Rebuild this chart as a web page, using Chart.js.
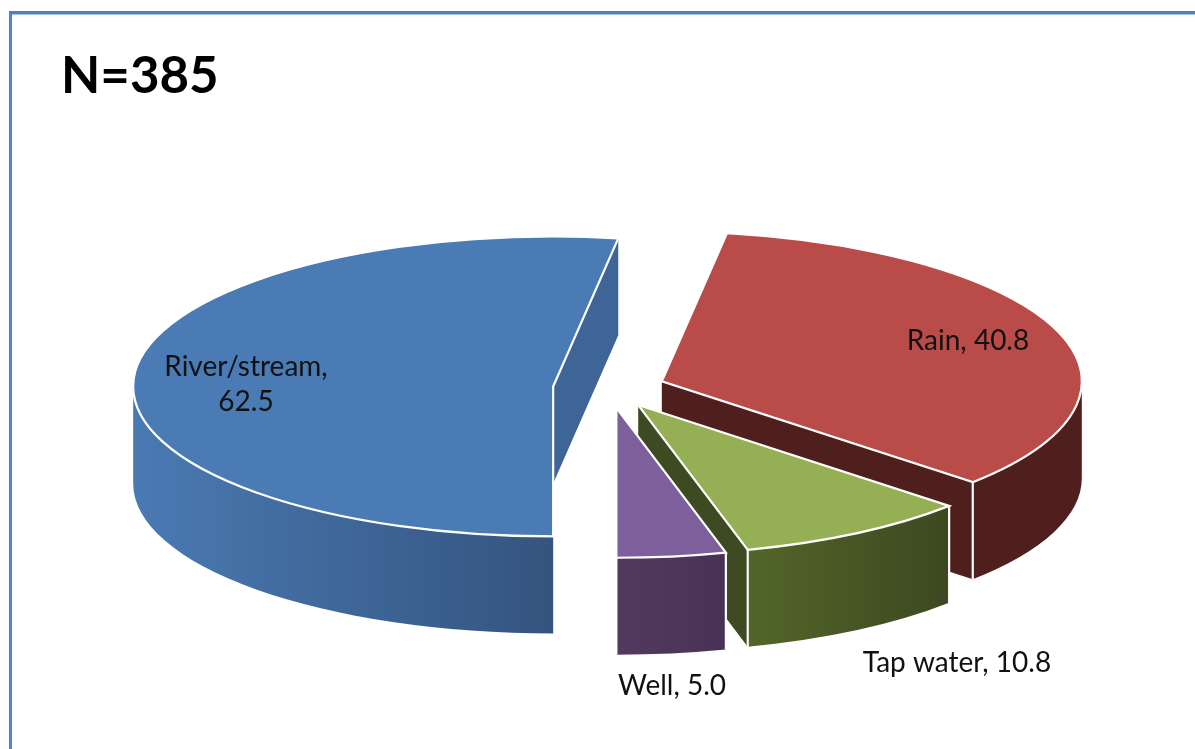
<!DOCTYPE html>
<html>
<head>
<meta charset="utf-8">
<style>
html,body{margin:0;padding:0;background:#fff;overflow:hidden}
#frame{position:absolute;left:9px;top:11px;width:1186px;height:738px;box-sizing:border-box;border-top:3px solid #4f81bd;border-left:3px solid #5585c0;box-shadow:inset 0 1px 0 #a9c1e0}
#c{position:absolute;left:0;top:0}
</style>
<script src="https://cdn.jsdelivr.net/npm/chart.js@4"></script>
</head>
<body>
<div id="frame"></div>
<canvas id="c" width="1195" height="749"></canvas>
<script>
const titleText = 'N=385';
const categories = ['River/stream', 'Rain', 'Tap water', 'Well'];
const values = [62.5, 40.8, 10.8, 5.0];
const valueLabels = ['62.5', '40.8', '10.8', '5.0'];
const topColors = ['#4a7bb5', '#b94c49', '#95b054', '#7d5f9c'];
const cutColors = ['#3f6596', '#4f1f1e', '#3e4a22', '#483355'];
const wallFrom = ['#4a7ab3', '#4f1f1e', '#526629', '#523a5f'];
const wallTo = ['#34547e', '#4f1f1e', '#3d4820', '#473255'];

const SQUASH = 0.357, DEPTH = 97, EXPLODE = 56;
const labelLines = [
  [[categories[0] + ',', 246, 367], [valueLabels[0], 246, 402]],
  [[categories[1] + ', ' + valueLabels[1], 968, 341]],
  [[categories[2] + ', ' + valueLabels[2], 957, 663]],
  [[categories[3] + ', ' + valueLabels[3], 672, 686]]
];

function geom(a) {
  const mid = (a.startAngle + a.endAngle) / 2;
  const r = a.outerRadius;
  return {
    cx: a.x + Math.cos(mid) * EXPLODE,
    cy: a.y + Math.sin(mid) * EXPLODE * SQUASH,
    r: r, ry: r * SQUASH, mid: mid
  };
}
function pt(g, t) { return [g.cx + g.r * Math.cos(t), g.cy + g.ry * Math.sin(t)]; }

const pie3d = {
  id: 'pie3d',
  beforeDatasetsDraw(chart) {
    const ctx = chart.ctx, arcs = chart.getDatasetMeta(0).data;
    arcs.forEach((a, i) => {
      const g = geom(a), s = a.startAngle, e = a.endAngle;
      ctx.save();
      // cut faces that look toward the viewer
      [[s, -1], [e, 1]].forEach(([t, side]) => {
        if (Math.sin(t + side * Math.PI / 2) <= 0.001) return;
        const p = pt(g, t);
        ctx.beginPath();
        ctx.moveTo(g.cx, g.cy);
        ctx.lineTo(p[0], p[1]);
        ctx.lineTo(p[0], p[1] + DEPTH);
        ctx.lineTo(g.cx, g.cy + DEPTH);
        ctx.closePath();
        ctx.fillStyle = cutColors[i];
        ctx.fill();
      });
      // outer curved wall, only the part facing front
      for (let k = -1; k <= 1; k++) {
        const lo = Math.max(s, k * 2 * Math.PI), hi = Math.min(e, k * 2 * Math.PI + Math.PI);
        if (hi <= lo) continue;
        const p0 = pt(g, lo), p1 = pt(g, hi);
        const grad = ctx.createLinearGradient(Math.min(p0[0], p1[0]), 0, Math.max(p0[0], p1[0]), 0);
        grad.addColorStop(0, wallFrom[i]);
        grad.addColorStop(1, wallTo[i]);
        ctx.beginPath();
        ctx.ellipse(g.cx, g.cy, g.r, g.ry, 0, lo, hi);
        ctx.ellipse(g.cx, g.cy + DEPTH, g.r, g.ry, 0, hi, lo, true);
        ctx.closePath();
        ctx.fillStyle = grad;
        ctx.fill();
        if (i > 0) {
          ctx.strokeStyle = '#fff';
          ctx.lineWidth = 2.2;
          [[lo, s], [hi, e]].forEach(([t, b]) => {
            if (t !== b) return;
            const p = pt(g, t);
            ctx.beginPath();
            ctx.moveTo(p[0], p[1]);
            ctx.lineTo(p[0], p[1] + DEPTH);
            ctx.stroke();
          });
        }
      }
      ctx.restore();
    });
  },
  beforeDatasetDraw(chart) {
    // the library's own arc elements, tilted and pulled apart, form the top faces
    const ctx = chart.ctx, arcs = chart.getDatasetMeta(0).data;
    arcs.forEach(a => {
      const g = geom(a);
      ctx.save();
      ctx.translate(g.cx, g.cy);
      ctx.scale(1, SQUASH);
      ctx.translate(-a.x, -a.y);
      a.draw(ctx);
      ctx.restore();
    });
    return false;
  },
  afterDatasetsDraw(chart) {
    const ctx = chart.ctx, arcs = chart.getDatasetMeta(0).data;
    arcs.forEach(a => {
      const g = geom(a);
      ctx.save();
      ctx.beginPath();
      ctx.moveTo(g.cx, g.cy);
      ctx.ellipse(g.cx, g.cy, g.r, g.ry, 0, a.startAngle, a.endAngle);
      ctx.closePath();
      ctx.strokeStyle = '#fff';
      ctx.lineWidth = 2.2;
      ctx.lineJoin = 'miter';
      ctx.stroke();
      ctx.restore();
    });
  },
  afterDraw(chart) {
    const ctx = chart.ctx;
    ctx.save();
    ctx.fillStyle = '#000';
    ctx.textBaseline = 'middle';
    ctx.textAlign = 'left';
    ctx.font = 'bold 51px Lato, "Open Sans", sans-serif';
    ctx.fillText(titleText, 61, 77);
    ctx.textAlign = 'center';
    ctx.fillStyle = '#111';
    ctx.font = '28px Lato, "Open Sans", sans-serif';
    labelLines.forEach(ls => ls.forEach(([t, x, y]) => ctx.fillText(t, x, y)));
    ctx.restore();
  }
};

new Chart(document.getElementById('c'), {
  type: 'pie',
  data: {
    labels: categories,
    datasets: [{
      data: values,
      backgroundColor: topColors,
      borderWidth: 0,
      clip: false
    }]
  },
  options: {
    responsive: false,
    animation: false,
    rotation: 180,
    radius: 420,
    layout: { padding: { left: 23, top: 27 } },
    events: [],
    plugins: { legend: { display: false }, tooltip: { enabled: false }, title: { display: false } }
  },
  plugins: [pie3d]
});
</script>
</body>
</html>
